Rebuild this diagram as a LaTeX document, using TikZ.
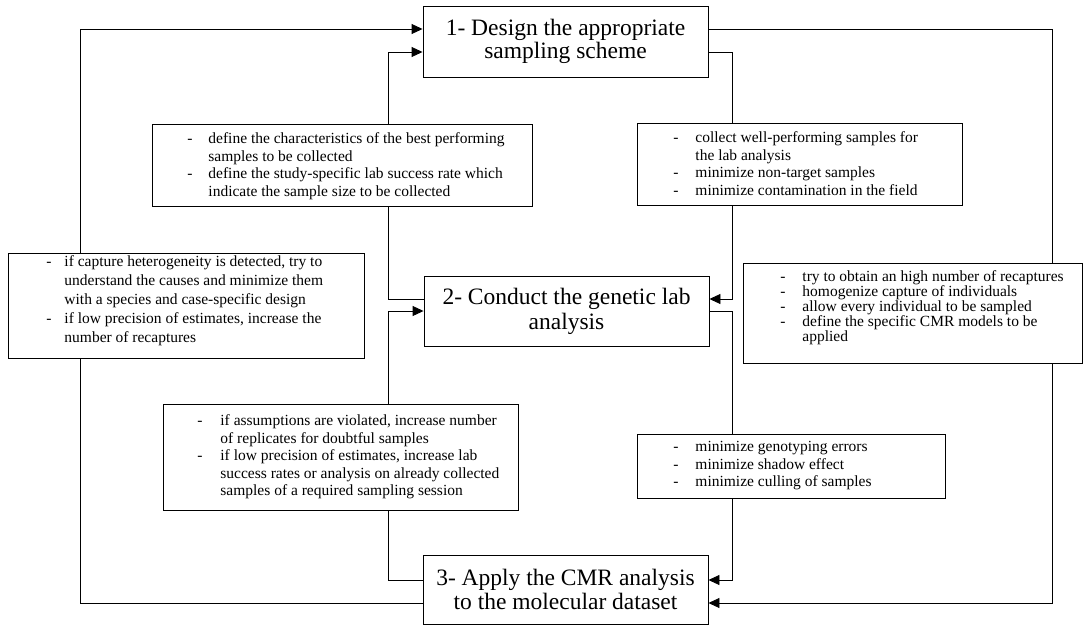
\documentclass[tikz,border=0pt]{standalone}
\usepackage{fontspec}
\setmainfont{Liberation Serif}
\usetikzlibrary{arrows.meta}
\pgfdeclarelayer{bg}
\pgfsetlayers{bg,main}
\newlength\dg
\newlength\ft
\newcommand\dlf[1]{\par\noindent\rule{0pt}{\ft}\makebox[\dg][l]{-}\mbox{#1}}
\newcommand\dl[1]{\par\noindent\makebox[\dg][l]{-}\mbox{#1}}
\newcommand\cl[1]{\par\noindent\hspace*{\dg}\mbox{#1}}
\newcommand\nbody[7]{\parbox[c][#2pt][t]{#1pt}{\fontsize{15.5}{#6}\selectfont\parskip=0pt\parindent=0pt\lineskiplimit=-50pt\lineskip=0pt\leftskip=#3pt\rightskip=0pt plus 1fil\hfuzz=200pt\dg=#4pt\ft=#5pt #7}}
\begin{document}
\begin{tikzpicture}[x=1pt,y=-1pt,
  tbox/.style={draw, fill=white, line width=0.9pt, inner sep=0pt, minimum width=285pt, align=center},
  nbox/.style={draw, fill=white, line width=0.9pt, inner sep=0pt, anchor=north west},
  conn/.style={line width=0.9pt},
  arr/.style={conn, -{Triangle[length=11pt,width=10pt]}}]
\useasboundingbox (0,0) rectangle (1083,626);
% main steps
\node[tbox, minimum height=71pt, font=\fontsize{23.5}{23}\selectfont] (n1) at (565.5,41.5) {1- Design the appropriate\\sampling scheme};
\node[tbox, minimum height=70pt, font=\fontsize{23.5}{25}\selectfont] (n2) at (566.5,311) {2- Conduct the genetic lab\\analysis};
\node[tbox, minimum height=69pt, font=\fontsize{23.5}{24}\selectfont] (n3) at (565.5,589.5) {3- Apply the CMR analysis\\to the molecular dataset};
% notes
\node[nbox] (nA) at (152,124) {\nbody{380}{82}{35}{21}{19.5}{17.5}{%
  \dlf{define the characteristics of the best performing}%
  \cl{samples to be collected}%
  \dl{define the study-specific lab success rate which}%
  \cl{indicate the sample size to be collected}}};
\node[nbox] (nB) at (637,123) {\nbody{325}{82}{36}{22}{19.5}{17.5}{%
  \dlf{collect well-performing samples for}%
  \cl{the lab analysis}%
  \dl{minimize non-target samples}%
  \dl{minimize contamination in the field}}};
\node[nbox] (nC) at (8,253) {\nbody{356}{105}{38}{18}{13.5}{19}{%
  \dlf{if capture heterogeneity is detected, try to}%
  \cl{understand the causes and minimize them}%
  \cl{with a species and case-specific design}%
  \dl{if low precision of estimates, increase the}%
  \cl{number of recaptures}}};
\node[nbox] (nD) at (743,263) {\nbody{339}{100}{37}{22}{18.5}{15}{%
  \dlf{try to obtain an high number of recaptures}%
  \dl{homogenize capture of individuals}%
  \dl{allow every individual to be sampled}%
  \dl{define the specific CMR models to be}%
  \cl{applied}}};
\node[nbox] (nE) at (163,404) {\nbody{355}{106}{34}{23}{21.5}{17.5}{%
  \dlf{if assumptions are violated, increase number}%
  \cl{of replicates for doubtful samples}%
  \dl{if low precision of estimates, increase lab}%
  \cl{success rates or analysis on already collected}%
  \cl{samples of a required sampling session}}};
\node[nbox] (nF) at (637,434) {\nbody{308}{64}{36}{22}{17.5}{17.5}{%
  \dlf{minimize genotyping errors}%
  \dl{minimize shadow effect}%
  \dl{minimize culling of samples}}};
% routing coordinates
\coordinate (r1) at (0,29);
\coordinate (r2) at (0,52);
\coordinate (r3) at (0,299);
\coordinate (r4) at (0,311);
\coordinate (r5) at (0,580);
\coordinate (r6) at (0,603);
\coordinate (cL) at (80,0);
\coordinate (cI) at (388,0);
\coordinate (cJ) at (732,0);
\coordinate (cR) at (1052,0);
\begin{pgfonlayer}{bg}
\draw[arr] (n3.west |- r6) -| (cL |- r1) -- (n1.west |- r1);
\draw[arr] (n1.east |- r1) -| (cR |- r6) -- (n3.east |- r6);
\draw[arr] (n1.east |- r2) -| (cJ |- r3) -- (n2.east |- r3);
\draw[arr] (n2.west |- r3) -| (cI |- r2) -- (n1.west |- r2);
\draw[arr] (n2.east |- r4) -| (cJ |- r5) -- (n3.east |- r5);
\draw[arr] (n3.west |- r5) -| (cI |- r4) -- (n2.west |- r4);
\end{pgfonlayer}
\end{tikzpicture}
\end{document}
